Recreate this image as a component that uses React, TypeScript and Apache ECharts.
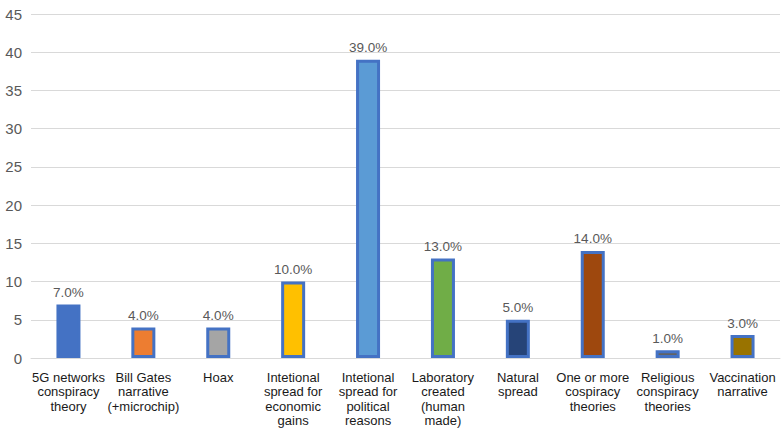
import React, { useEffect, useRef } from "react";
import * as echarts from "echarts";

const categories = [
  "5G networks\nconspiracy\ntheory",
  "Bill Gates\nnarrative\n(+microchip)",
  "Hoax",
  "Intetional\nspread for\neconomic\ngains",
  "Intetional\nspread for\npolitical\nreasons",
  "Laboratory\ncreated\n(human\nmade)",
  "Natural\nspread",
  "One or more\ncospiracy\ntheories",
  "Religious\nconspiracy\ntheories",
  "Vaccination\nnarrative",
];
const values = [7, 4, 4, 10, 39, 13, 5, 14, 1, 3];
const barColors = [
  "#4472C4",
  "#ED7D31",
  "#A5A5A5",
  "#FFC000",
  "#5B9BD5",
  "#70AD47",
  "#264478",
  "#9E480E",
  "#636363",
  "#997300",
];

export default function App() {
  const ref = useRef<HTMLDivElement>(null);
  useEffect(() => {
    if (!ref.current) return;
    const chart = echarts.init(ref.current, null, { renderer: "svg" });
    chart.setOption({
      animation: false,
      grid: { left: 31, right: 4, top: 14, bottom: 71, containLabel: false },
      xAxis: {
        type: "category",
        data: categories,
        axisTick: { show: false },
        axisLine: { show: true, lineStyle: { color: "#D9D9D9", width: 1 } },
        axisLabel: {
          interval: 0,
          color: "#1a1a1a",
          fontFamily: "Liberation Sans, Arial, sans-serif",
          fontSize: 13,
          lineHeight: 14.5,
          margin: 12,
        },
      },
      yAxis: {
        type: "value",
        min: 0,
        max: 45,
        interval: 5,
        axisLine: { show: false },
        axisTick: { show: false },
        splitLine: { lineStyle: { color: "#D9D9D9", width: 1 } },
        axisLabel: {
          color: "#595959",
          fontFamily: "Liberation Sans, Arial, sans-serif",
          fontSize: 15,
          margin: 9,
        },
      },
      series: [
        {
          type: "bar",
          barWidth: 24,
          data: values.map((v, i) => ({
            value: v,
            itemStyle: {
              color: barColors[i],
              borderColor: "#4472C4",
              borderWidth: 3,
            },
          })),
          label: {
            show: true,
            position: "top",
            distance: 5,
            color: "#595959",
            fontFamily: "Liberation Sans, Arial, sans-serif",
            fontSize: 13.5,
            formatter: (p: any) => p.value.toFixed(1) + "%",
          },
        },
      ],
    });
    return () => chart.dispose();
  }, []);
  return <div ref={ref} style={{ width: 784, height: 429, position: "absolute", left: 0, top: 0 }} />;
}
